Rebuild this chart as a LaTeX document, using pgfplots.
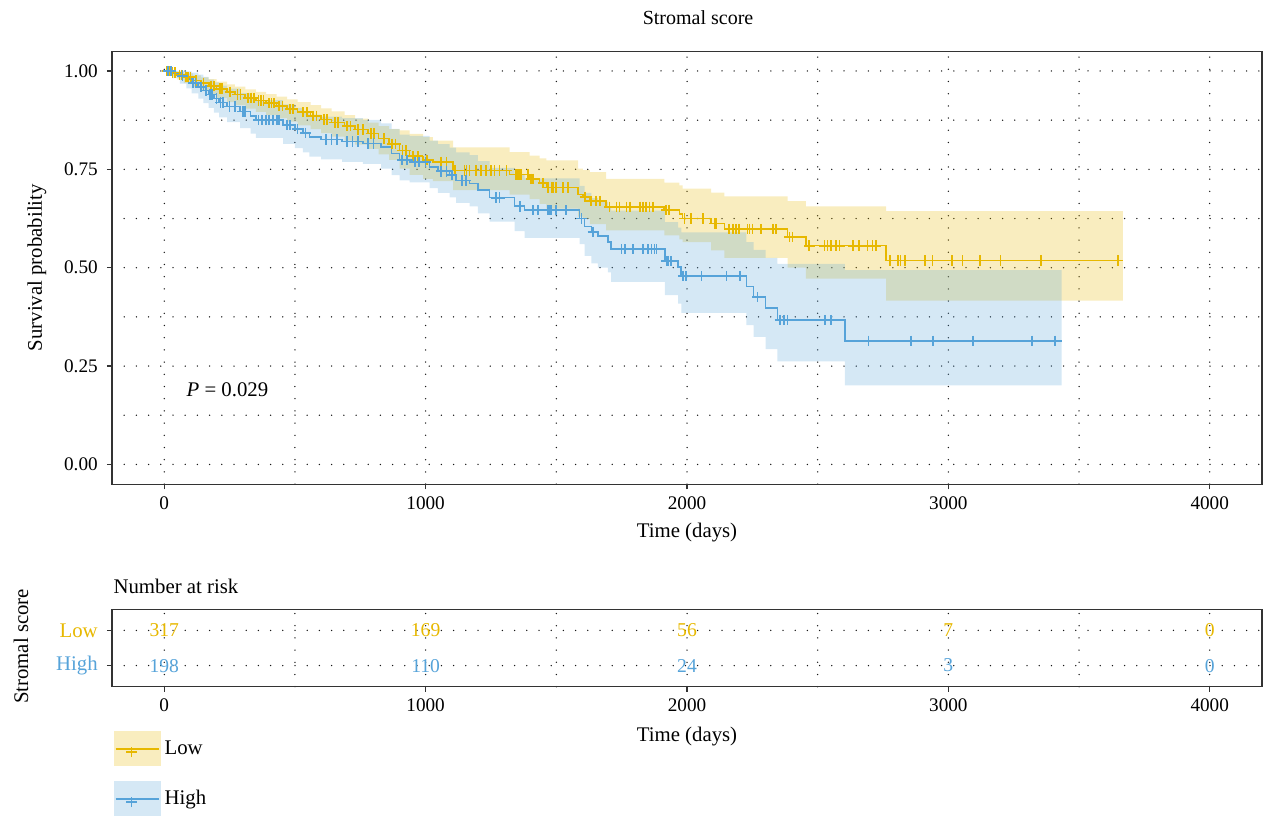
\documentclass[border=0pt]{standalone}
\usepackage{fontspec}
\setmainfont{Liberation Serif}
\usepackage{pgfplots}
\pgfplotsset{compat=1.18}

\definecolor{lowc}{HTML}{E7B800}
\definecolor{highc}{HTML}{56A3D9}

\pgfplotsset{
  kmgrid/.style={black!90, line width=0.75pt, line cap=round, dash pattern=on 0pt off 6.1pt},
  kmbase/.style={
    scale only axis, width=575pt, clip mode=individual,
    xmin=-200, xmax=4200,
    xtick={0,1000,2000,3000,4000}, minor xtick={500,1500,2500,3500},
    grid=both, major grid style={kmgrid}, minor grid style={kmgrid},
    tick align=outside, xtick pos=left, ytick pos=left,
    major tick length=2.6pt, minor tick length=0pt,
    axis line style={black!80, line width=0.6pt},
    tick style={black!80, line width=0.6pt},
    /pgf/number format/assume math mode=true,
    /pgf/number format/1000 sep={},
    scaled ticks=false,
    tick label style={font=\fontsize{9.6}{11}\selectfont},
    yticklabel style={xshift=-1pt},
    label style={font=\fontsize{10.4}{12}\selectfont},
  },
  censor/.style={only marks, mark=+, mark size=2.6pt, mark options={line width=0.85pt}},
  % band: upper limits forward, then lower limits backward (each time paired with the
  % lower limit of the previous step), drawn as one const plot
  band/.style={const plot, draw=none, fill=#1, fill opacity=0.25, forget plot},
}

\begin{document}
\begin{tikzpicture}
\useasboundingbox (0,0) rectangle (634pt,-408.5pt);

% ---------------- survival curves ----------------
\begin{axis}[kmbase,
  at={(56pt,-242.05pt)}, anchor=south west, height=216.4pt,
  ymin=-0.05, ymax=1.05,
  ytick={0,0.25,0.5,0.75,1}, minor ytick={0.125,0.375,0.625,0.875},
  yticklabel style={/pgf/number format/.cd, fixed, fixed zerofill, precision=2},
  xlabel={Time (days)}, ylabel={Survival probability},
  xlabel style={at={(axis description cs:0.5,-0.113)}, anchor=center},
  ylabel style={at={(axis description cs:-0.0652,0.5)}, anchor=center},
  title={Stromal score},
  every axis title/.style={at={(axis description cs:0.5096,1.077)}, anchor=center,
    font=\fontsize{10}{12}\selectfont},
]
% 95% CI, Low
\addplot[band=lowc] coordinates {
 (0,1.000) (25,0.999) (50,0.997) (75,0.994) (110,0.989) (140,0.984) (170,0.979)
 (200,0.973) (240,0.966) (270,0.960) (310,0.953) (350,0.947) (390,0.941) (430,0.935)
 (470,0.928) (510,0.921) (560,0.913) (600,0.905) (640,0.897) (690,0.888) (730,0.879)
 (780,0.869) (820,0.860) (860,0.852) (900,0.849) (939,0.840) (990,0.832) (1028,0.823)
 (1105,0.806) (1321,0.794) (1398,0.785) (1436,0.778) (1462,0.773) (1583,0.752)
 (1602,0.748) (1628,0.743) (1691,0.726) (1913,0.716) (1971,0.709) (1983,0.701)
 (2092,0.691) (2143,0.681) (2385,0.669) (2455,0.656) (2762,0.644) (3668,0.644)
 (3668,0.416) (2762,0.472) (2455,0.500) (2385,0.525) (2143,0.544) (2092,0.565)
 (1983,0.572) (1971,0.582) (1913,0.595) (1691,0.611) (1628,0.624) (1602,0.630)
 (1583,0.650) (1462,0.662) (1436,0.674) (1398,0.686) (1321,0.697) (1105,0.720)
 (1028,0.726) (990,0.736) (939,0.752) (900,0.774) (860,0.788) (820,0.802) (780,0.813)
 (730,0.823) (690,0.833) (640,0.842) (600,0.852) (560,0.862) (510,0.871) (470,0.880)
 (430,0.888) (390,0.896) (350,0.904) (310,0.913) (270,0.921) (240,0.931) (200,0.940)
 (170,0.949) (140,0.958) (110,0.969) (75,0.978) (50,0.988) (25,1.000) (0,1.000)};

% 95% CI, High
\addplot[band=highc] coordinates {
 (0,1.000) (30,1.000) (60,1.000) (85,0.999) (105,0.996) (130,0.991) (150,0.985)
 (170,0.978) (190,0.971) (210,0.963) (240,0.955) (290,0.944) (330,0.934) (350,0.926)
 (455,0.915) (500,0.906) (530,0.898) (555,0.889) (600,0.884) (680,0.880) (760,0.876)
 (830,0.867) (870,0.853) (900,0.838) (939,0.835) (1015,0.823) (1047,0.814) (1092,0.805)
 (1117,0.793) (1168,0.786) (1200,0.771) (1245,0.754) (1340,0.735) (1379,0.727)
 (1589,0.708) (1608,0.690) (1634,0.677) (1659,0.667) (1697,0.654) (1710,0.645)
 (1915,0.616) (1966,0.602) (1978,0.590) (2227,0.565) (2255,0.545) (2301,0.525)
 (2346,0.510) (2604,0.494) (3433,0.494)
 (3433,0.201) (2604,0.262) (2346,0.293) (2301,0.324) (2255,0.354) (2227,0.385)
 (1978,0.409) (1966,0.430) (1915,0.464) (1710,0.488) (1697,0.500) (1659,0.511)
 (1634,0.530) (1608,0.560) (1589,0.576) (1379,0.593) (1340,0.617) (1245,0.638)
 (1200,0.656) (1168,0.665) (1117,0.679) (1092,0.690) (1047,0.702) (1015,0.717)
 (939,0.722) (900,0.735) (870,0.752) (830,0.764) (760,0.769) (680,0.775) (600,0.782)
 (555,0.793) (530,0.804) (500,0.815) (455,0.830) (350,0.841) (330,0.855) (290,0.870)
 (240,0.882) (210,0.894) (190,0.906) (170,0.918) (150,0.930) (130,0.943) (105,0.956)
 (85,0.968) (60,0.982) (30,1.000) (0,1.000)};

% Kaplan-Meier curves
\addplot[const plot, lowc, line width=0.8pt, forget plot] coordinates {
 (0,1.000) (25,0.996) (50,0.990) (75,0.984) (110,0.976) (140,0.969) (170,0.962)
 (200,0.955) (240,0.947) (270,0.940) (310,0.932) (350,0.925) (390,0.918) (430,0.911)
 (470,0.903) (510,0.895) (560,0.886) (600,0.877) (640,0.869) (690,0.860) (730,0.851)
 (780,0.841) (820,0.828) (860,0.815) (900,0.798) (939,0.783) (990,0.774) (1028,0.769)
 (1105,0.747) (1321,0.737) (1398,0.726) (1436,0.715) (1462,0.704) (1583,0.686)
 (1602,0.680) (1628,0.670) (1691,0.655) (1913,0.647) (1971,0.636) (1983,0.625)
 (2092,0.612) (2143,0.598) (2385,0.578) (2455,0.556) (2762,0.518) (3668,0.518)};
\addplot[const plot, highc, line width=0.8pt, forget plot] coordinates {
 (0,1.000) (30,0.995) (60,0.988) (85,0.980) (105,0.970) (130,0.960) (150,0.950)
 (170,0.940) (190,0.930) (210,0.920) (240,0.910) (290,0.897) (330,0.885) (350,0.875)
 (455,0.862) (500,0.852) (530,0.842) (555,0.832) (600,0.826) (680,0.821) (760,0.816)
 (830,0.806) (870,0.790) (900,0.773) (939,0.769) (1015,0.756) (1047,0.745) (1092,0.735)
 (1117,0.722) (1168,0.714) (1200,0.697) (1245,0.678) (1340,0.656) (1379,0.646)
 (1589,0.625) (1608,0.605) (1634,0.591) (1659,0.580) (1697,0.566) (1710,0.547)
 (1915,0.517) (1966,0.502) (1978,0.479) (2227,0.452) (2255,0.425) (2301,0.397)
 (2346,0.367) (2604,0.314) (3433,0.314)};

% censoring marks
\addplot[censor, lowc, forget plot] coordinates {
 (10,1.000) (20,1.000) (32,0.996) (42,0.996) (58,0.990) (66,0.990) (82,0.984) (92,0.984)
 (100,0.984) (122,0.976) (150,0.969) (180,0.962) (190,0.962) (212,0.955) (222,0.955)
 (252,0.947) (280,0.940) (292,0.940) (320,0.932) (332,0.932) (342,0.932) (360,0.925)
 (370,0.925) (380,0.925) (400,0.918) (410,0.918) (420,0.918) (440,0.911) (452,0.911)
 (480,0.903) (492,0.903) (530,0.895) (545,0.895) (570,0.886) (582,0.886) (612,0.877)
 (622,0.877) (652,0.869) (665,0.869) (700,0.860) (712,0.860) (742,0.851) (760,0.851)
 (790,0.841) (802,0.841) (840,0.828) (872,0.815) (885,0.815) (912,0.798) (925,0.798)
 (952,0.783) (970,0.783) (1005,0.774) (1060,0.769) (1080,0.769) (1111,0.747)
 (1149,0.747) (1156,0.747) (1168,0.747) (1194,0.747) (1213,0.747) (1232,0.747)
 (1251,0.747) (1264,0.747) (1283,0.747) (1309,0.747) (1347,0.737) (1353,0.737)
 (1360,0.737) (1366,0.737) (1392,0.737) (1404,0.726) (1411,0.726) (1449,0.715)
 (1468,0.704) (1481,0.704) (1487,0.704) (1500,0.704) (1526,0.704) (1545,0.704)
 (1610,0.680) (1634,0.670) (1653,0.670) (1666,0.670) (1704,0.655) (1730,0.655)
 (1742,0.655) (1768,0.655) (1781,0.655) (1819,0.655) (1832,0.655) (1844,0.655)
 (1857,0.655) (1870,0.655) (1920,0.647) (1932,0.647) (1990,0.625) (2015,0.625)
 (2060,0.625) (2105,0.612) (2111,0.612) (2162,0.598) (2175,0.598) (2188,0.598)
 (2200,0.598) (2232,0.598) (2239,0.598) (2251,0.598) (2283,0.598) (2328,0.598)
 (2341,0.598) (2392,0.578) (2404,0.578) (2468,0.556) (2526,0.556) (2538,0.556)
 (2551,0.556) (2570,0.556) (2583,0.556) (2634,0.556) (2659,0.556) (2691,0.556)
 (2710,0.556) (2723,0.556) (2776,0.518) (2808,0.518) (2817,0.518) (2834,0.518)
 (2910,0.518) (2939,0.518) (3015,0.518) (3054,0.518) (3122,0.518) (3200,0.518)
 (3355,0.518) (3650,0.518)};
\addplot[censor, highc, forget plot] coordinates {
 (15,1.000) (25,1.000) (70,0.988) (110,0.970) (120,0.970) (140,0.960) (160,0.950)
 (175,0.940) (182,0.940) (200,0.930) (215,0.920) (225,0.920) (250,0.910) (270,0.910)
 (300,0.897) (310,0.897) (360,0.875) (375,0.875) (390,0.875) (400,0.875) (415,0.875)
 (430,0.875) (440,0.875) (470,0.862) (480,0.862) (510,0.852) (540,0.842) (620,0.826)
 (640,0.826) (660,0.826) (700,0.821) (720,0.821) (740,0.821) (780,0.816) (800,0.816)
 (910,0.773) (930,0.773) (960,0.769) (975,0.769) (1000,0.769) (1060,0.745)
 (1080,0.745) (1100,0.735) (1140,0.722) (1155,0.722) (1270,0.678) (1283,0.678)
 (1360,0.656) (1411,0.646) (1430,0.646) (1468,0.646) (1474,0.646) (1480,0.646)
 (1500,0.646) (1538,0.646) (1596,0.625) (1640,0.591) (1749,0.547) (1762,0.547)
 (1793,0.547) (1832,0.547) (1851,0.547) (1864,0.547) (1876,0.547) (1883,0.547)
 (1921,0.517) (1927,0.517) (1940,0.517) (1985,0.479) (1995,0.479) (2055,0.479)
 (2151,0.479) (2202,0.479) (2270,0.425) (2355,0.367) (2370,0.367) (2385,0.367)
 (2527,0.367) (2552,0.367) (2694,0.314) (2858,0.314) (2940,0.314) (3094,0.314)
 (3321,0.314) (3409,0.314)};

\node[anchor=west, inner sep=0pt, font=\fontsize{10.4}{12}\selectfont] at (axis cs:84,0.19) {\textit{P} = 0.029};
\end{axis}

% ---------------- number at risk ----------------
\begin{axis}[kmbase,
  at={(56pt,-343.35pt)}, anchor=south west, height=38.7pt,
  ymin=0.4, ymax=2.6, ytick={1,2},
  yticklabels={{\color{highc}High},{\color{lowc}Low}},
  yticklabel style={font=\fontsize{10.4}{12}\selectfont},
  xlabel={Time (days)}, ylabel={Stromal score},
  xlabel style={at={(axis description cs:0.5,-0.65)}, anchor=center},
  ylabel style={at={(axis description cs:-0.0791,0.52)}, anchor=center},
  title={Number at risk},
  every axis title/.style={at={(axis description cs:0.001,1.30)}, anchor=west, inner sep=0pt,
    font=\fontsize{10.4}{12}\selectfont},
  legend cell align=left,
  legend style={at={(axis description cs:0.001,-0.572)}, anchor=north west,
    draw=none, fill=none, inner sep=0pt, row sep=7.5pt,
    font=\fontsize{10.4}{12}\selectfont},
]
\addplot[draw=none, mark=none, forget plot, nodes near coords, point meta=explicit symbolic,
  every node near coord/.append style={anchor=center, text=lowc, font=\fontsize{9.8}{11}\selectfont}]
  coordinates {(0,2)[317] (1000,2)[169] (2000,2)[56] (3000,2)[7] (4000,2)[0]};
\addplot[draw=none, mark=none, forget plot, nodes near coords, point meta=explicit symbolic,
  every node near coord/.append style={anchor=center, text=highc, font=\fontsize{9.8}{11}\selectfont}]
  coordinates {(0,1)[198] (1000,1)[110] (2000,1)[24] (3000,1)[3] (4000,1)[0]};

\addlegendimage{legend image code/.code={
  \path[draw=none, fill=lowc, fill opacity=0.25] (0pt,-8.75pt) rectangle (23.5pt,8.75pt);
  \path[draw=lowc, line width=0.8pt] (1pt,0pt) -- (22.5pt,0pt);
  \path[draw=lowc, line width=0.8pt] (9pt,-4.1pt) -- (9pt,1.1pt) (6.4pt,-1.5pt) -- (11.6pt,-1.5pt);}}
\addlegendentry{Low}
\addlegendimage{legend image code/.code={
  \path[draw=none, fill=highc, fill opacity=0.25] (0pt,-8.75pt) rectangle (23.5pt,8.75pt);
  \path[draw=highc, line width=0.8pt] (1pt,0pt) -- (22.5pt,0pt);
  \path[draw=highc, line width=0.8pt] (9pt,-4.1pt) -- (9pt,1.1pt) (6.4pt,-1.5pt) -- (11.6pt,-1.5pt);}}
\addlegendentry{High}
\end{axis}
\end{tikzpicture}
\end{document}
